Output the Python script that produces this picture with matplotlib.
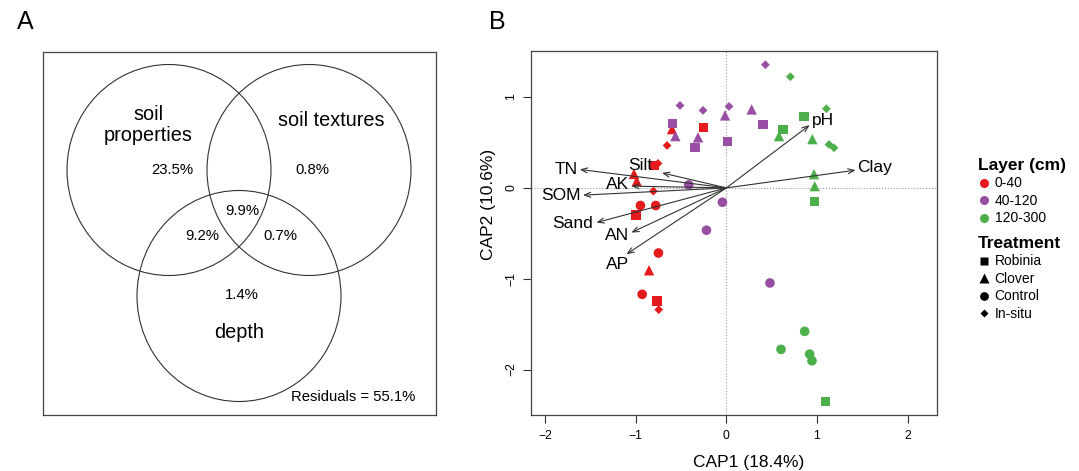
import matplotlib

matplotlib.use("Agg")
import matplotlib.pyplot as plt
from matplotlib.lines import Line2D
from matplotlib.patches import Ellipse

plt.rcParams["font.family"] = ["Liberation Sans", "DejaVu Sans"]

# ---- panel A: variance partitioning ----
venn_sets = ["soil\nproperties", "soil textures", "depth"]
venn_parts = ["23.5%", "0.8%", "9.9%", "9.2%", "0.7%", "1.4%"]
residuals = "Residuals = 55.1%"

# ---- panel B: CAP ordination ----
layers = ["0-40", "40-120", "120-300"]
layer_colors = ["#E41A1C", "#984EA3", "#4DAF4A"]
treatments = ["Robinia", "Clover", "Control", "In-situ"]
treat_markers = ["s", "^", "o", "D"]
treat_sizes = [44, 56, 48, 20]

# CAP1 / CAP2 scores per layer -> per treatment (4 replicates)
cap1 = {
    "0-40": [[-0.254, -0.790, -0.998, -0.766],
             [-0.600, -1.020, -0.990, -0.854],
             [-0.949, -0.780, -0.750, -0.930],
             [-0.655, -0.755, -0.806, -0.747]],
    "40-120": [[-0.596, -0.347, 0.014, 0.404],
               [-0.563, -0.313, -0.015, 0.279],
               [-0.416, -0.044, -0.220, 0.481],
               [-0.512, -0.258, 0.029, 0.430]],
    "120-300": [[0.625, 0.857, 0.975, 1.093],
                [0.581, 0.949, 0.967, 0.975],
                [0.603, 0.864, 0.919, 0.945],
                [0.706, 1.104, 1.133, 1.188]],
}
cap2 = {
    "0-40": [[0.666, 0.243, -0.298, -1.246],
             [0.647, 0.154, 0.074, -0.907],
             [-0.194, -0.194, -0.717, -1.172],
             [0.467, 0.269, -0.036, -1.341]],
    "40-120": [[0.710, 0.445, 0.511, 0.695],
               [0.570, 0.556, 0.798, 0.864],
               [0.033, -0.158, -0.466, -1.047],
               [0.908, 0.853, 0.897, 1.356]],
    "120-300": [[0.647, 0.783, -0.147, -2.348],
                [0.570, 0.537, 0.151, 0.019],
                [-1.778, -1.580, -1.830, -1.903],
                [1.224, 0.871, 0.478, 0.441]],
}

env_names = ["TN", "Silt", "AK", "SOM", "Sand", "AN", "AP", "pH", "Clay"]
env_x = [-1.619, -0.711, -1.049, -1.583, -1.435, -1.049, -1.104, 0.919, 1.427]
env_y = [0.203, 0.165, 0.019, -0.080, -0.382, -0.492, -0.731, 0.691, 0.195]
env_lab_x = [-1.766, -0.946, -1.203, -1.821, -1.693, -1.203, -1.203, 1.066, 1.637]
env_lab_y = [0.206, 0.250, 0.037, -0.088, -0.391, -0.521, -0.840, 0.740, 0.225]

W, H = 1079, 471
fig = plt.figure(figsize=(W / 100, H / 100), dpi=100)


def px_axes(x0, y0, x1, y1):
    return fig.add_axes([x0 / W, 1 - y1 / H, (x1 - x0) / W, (y1 - y0) / H])


# ---------------- A ----------------
axA = px_axes(43, 52, 436, 415)
axA.set_xlim(0, 393)
axA.set_ylim(363, 0)
axA.set_xticks([])
axA.set_yticks([])
for s in axA.spines.values():
    s.set_color("#444444")
    s.set_linewidth(0.9)

for cx, cy in [(126, 118), (266, 118), (196, 244)]:
    axA.add_patch(Ellipse((cx, cy), 204, 211, fill=False, ec="#333333", lw=0.8))

axA.text(105, 73, venn_sets[0], ha="center", va="center", fontsize=14.3, linespacing=1.15)
axA.text(288, 69, venn_sets[1], ha="center", va="center", fontsize=14.3)
axA.text(196, 281, venn_sets[2], ha="center", va="center", fontsize=14.3)
part_xy = [(129, 118), (269, 118), (199, 159), (159, 184), (237, 184), (199, 243)]
for (x, y), t in zip(part_xy, venn_parts):
    axA.text(x, y, t, ha="center", va="center", fontsize=10.7)
axA.text(310, 345, residuals, ha="center", va="center", fontsize=10.7)

fig.text(25 / W, 1 - 22 / H, "A", ha="center", va="center", fontsize=18)
fig.text(497 / W, 1 - 22 / H, "B", ha="center", va="center", fontsize=18)

# ---------------- B ----------------
ax = px_axes(531, 51, 937, 414.5)
ax.set_xlim(-2.157, 2.325)
ax.set_ylim(-2.495, 1.507)
ax.axhline(0, color="#9a9a9a", ls=":", lw=0.8, zorder=1)
ax.axvline(0, color="#9a9a9a", ls=":", lw=0.8, zorder=1)

for lay, col in zip(layers, layer_colors):
    for ti, (mk, ms) in enumerate(zip(treat_markers, treat_sizes)):
        ax.scatter(cap1[lay][ti], cap2[lay][ti], marker=mk, s=ms, color=col,
                   edgecolors="none", zorder=3)

for name, x, y, lx, ly in zip(env_names, env_x, env_y, env_lab_x, env_lab_y):
    ax.annotate("", xy=(x, y), xytext=(0, 0),
                arrowprops=dict(arrowstyle="->,head_length=0.45,head_width=0.18",
                                color="#333333", lw=0.8, shrinkA=0, shrinkB=0),
                zorder=4)
    ax.text(lx, ly, name, ha="center", va="center", fontsize=12.5, zorder=5)

ax.set_xticks([-2, -1, 0, 1, 2])
ax.set_yticks([-2, -1, 0, 1])
ax.set_xticklabels(["\u22122", "\u22121", "0", "1", "2"])
ax.set_yticklabels(["\u22122", "\u22121", "0", "1"], rotation=90, va="center")
ax.tick_params(length=5.5, width=0.8, pad=6, labelsize=8.8, color="#333333")
ax.tick_params(axis="y", pad=4.5)
for s in ax.spines.values():
    s.set_color("#444444")
    s.set_linewidth(0.9)

fig.text(749 / W, 1 - 463 / H, "CAP1 (18.4%)", ha="center", va="center", fontsize=12.5)
fig.text(488 / W, 1 - 204 / H, "CAP2 (10.6%)", ha="center", va="center",
         rotation=90, fontsize=12.5)

# legends
lay_handles = [Line2D([], [], ls="", marker="o", ms=6.5, color=c, mec="none")
               for c in layer_colors]
trt_handles = [Line2D([], [], ls="", marker=m, ms=sz, color="black", mec="none")
               for m, sz in zip(treat_markers, [6.0, 6.8, 6.3, 4.3])]
leg_kw = dict(frameon=False, fontsize=10, handlelength=0.8, handletextpad=0.4,
              labelspacing=0.25, borderpad=0, borderaxespad=0,
              title_fontproperties={"weight": "bold", "size": 12.5},
              alignment="left", loc="upper left")
leg1 = fig.legend(lay_handles, layers, title="Layer (cm)",
                  bbox_to_anchor=(978 / W, 1 - 158 / H), **leg_kw)
leg2 = fig.legend(trt_handles, treatments, title="Treatment",
                  bbox_to_anchor=(978 / W, 1 - 236 / H), **leg_kw)

fig.savefig("out.png", dpi=100)
